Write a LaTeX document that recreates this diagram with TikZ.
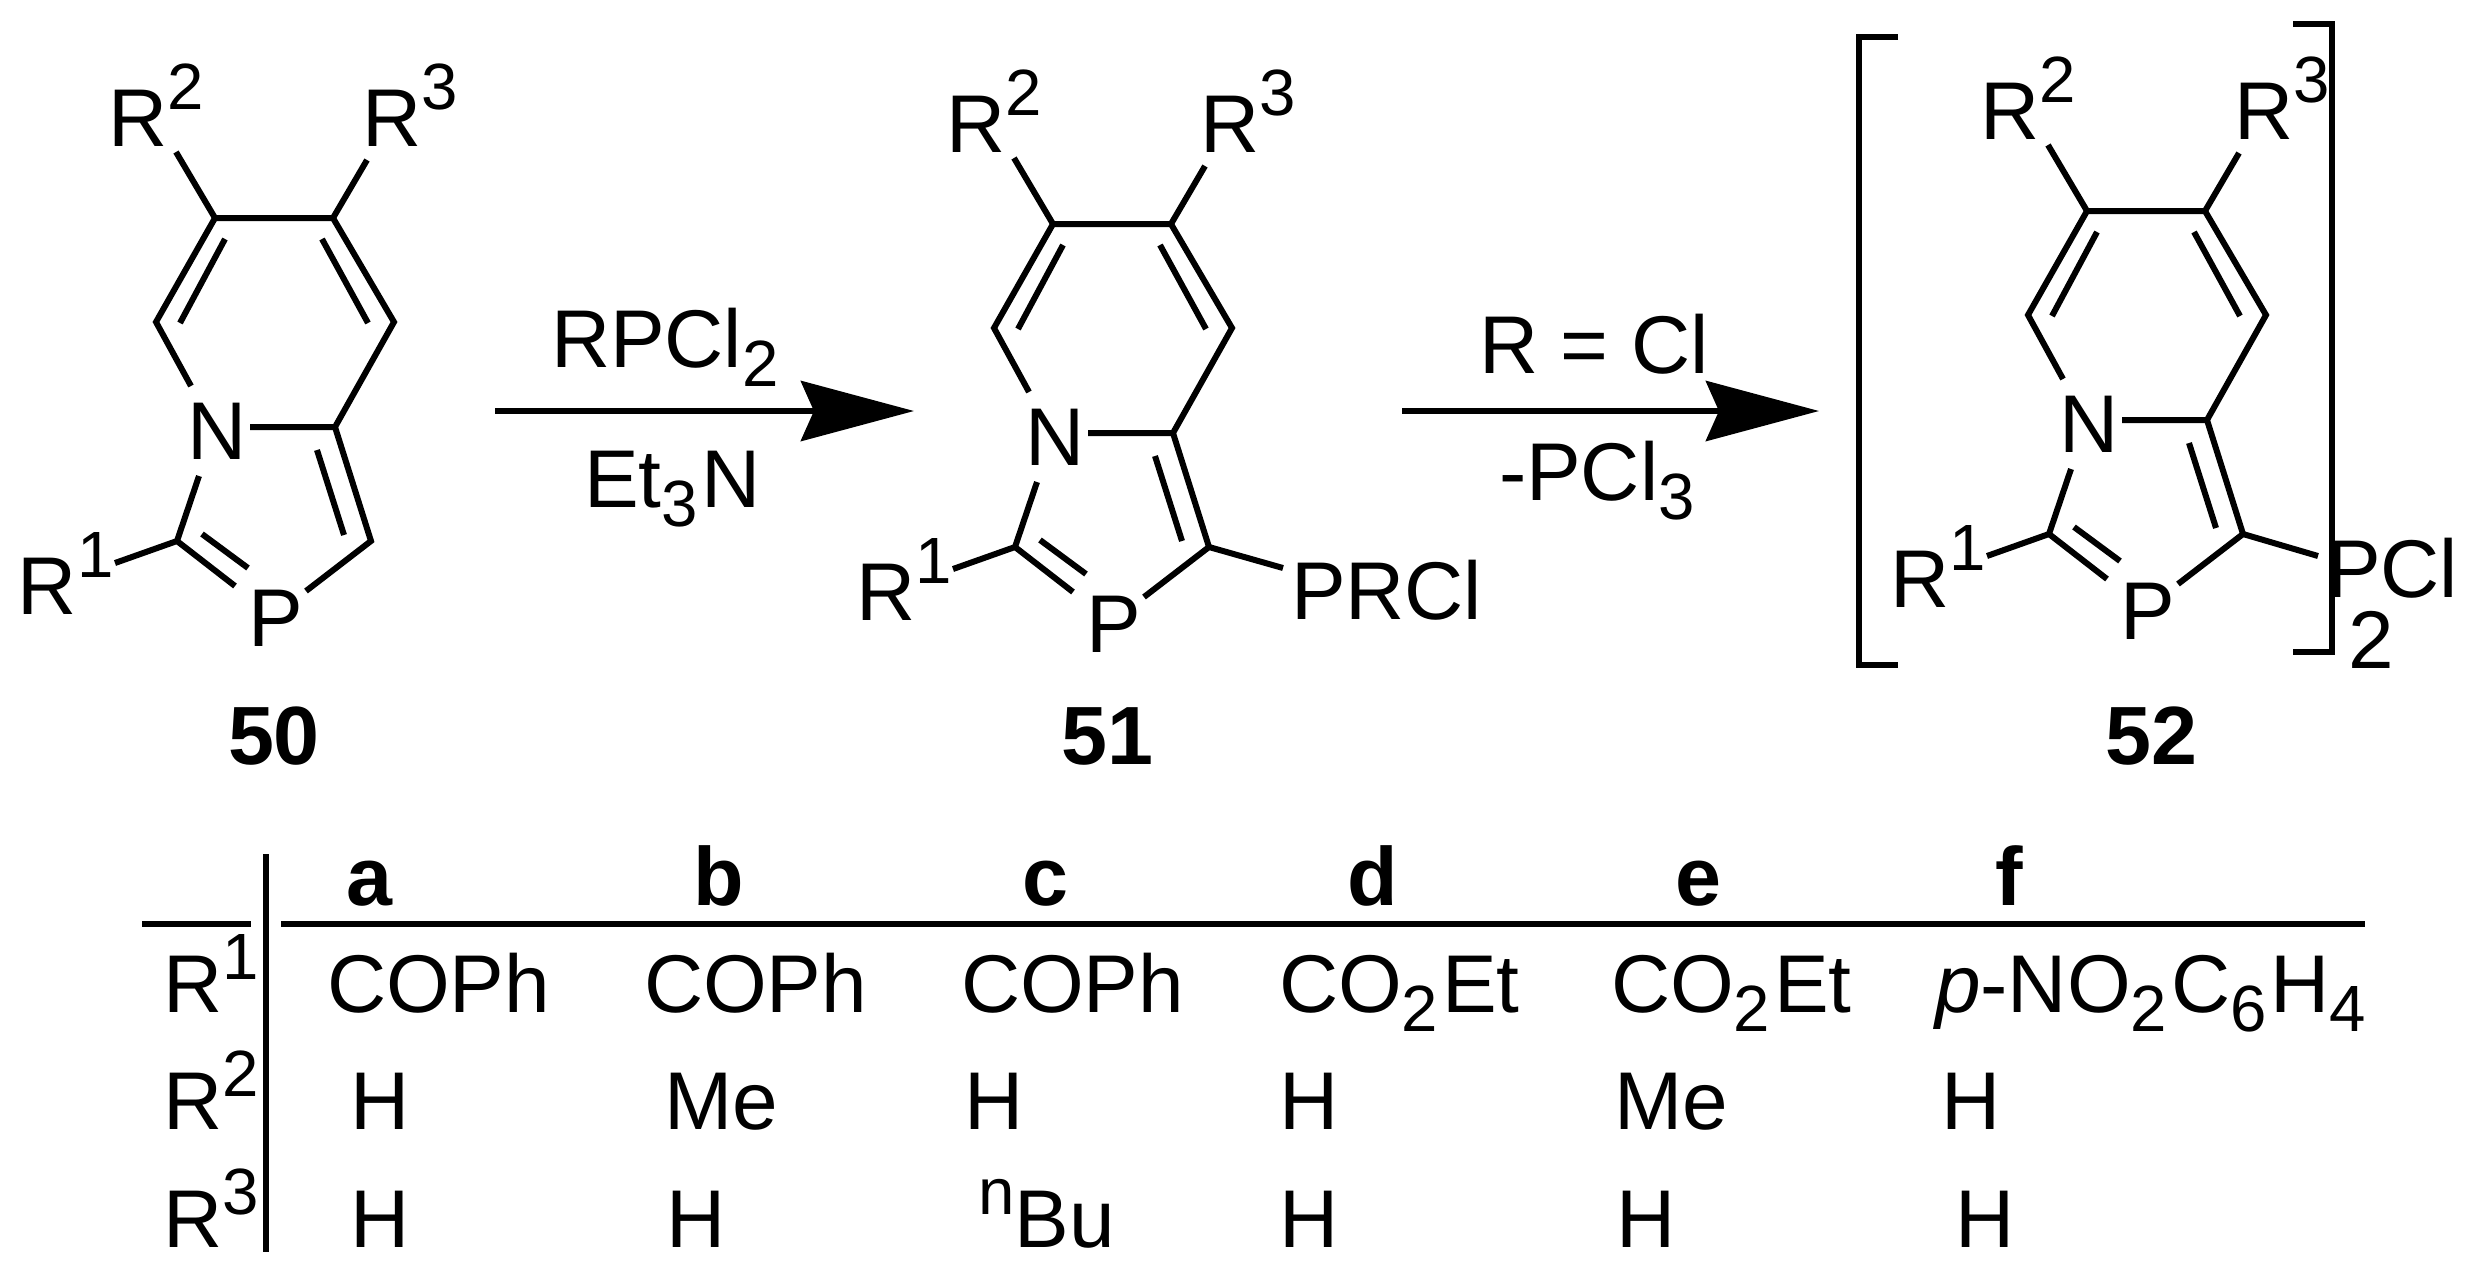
\documentclass[tikz,border=0pt]{standalone}
\usepackage{fontspec}
\setmainfont{Liberation Sans}
\usetikzlibrary{arrows.meta}
\newcommand{\Sp}[1]{\raisebox{0.36cm}{\fontsize{18.6pt}{20pt}\selectfont #1}}
\newcommand{\Tp}[1]{\raisebox{0.33cm}{\fontsize{18.6pt}{20pt}\selectfont #1}}
\newcommand{\Sb}[1]{\raisebox{-0.19cm}{\fontsize{18.6pt}{20pt}\selectfont #1}\kern0.04cm}
\tikzset{
  lab/.style={anchor=base west,inner sep=0pt,outer sep=0pt,font=\fontsize{23.3pt}{27pt}\selectfont},
  cmpd/.style={anchor=base,inner sep=0pt,outer sep=0pt,font=\fontsize{23.5pt}{27pt}\selectfont\bfseries},
  hd/.style={anchor=base west,inner sep=0pt,outer sep=0pt,font=\fontsize{23.5pt}{27pt}\selectfont\bfseries},
  bond/.style={line width=0.06cm,line cap=butt,line join=miter},
  rule/.style={line width=0.065cm},
  rxn/.style={line width=0.06cm,-{Stealth[length=1.13cm,width=0.6cm,inset=0.13cm]}}
}
\newcommand{\molecule}[3]{%
\begin{scope}[shift={(#1,#2)},name prefix=#3-]
  \coordinate (c2) at (215,218);
  \coordinate (c3) at (333,218);
  \coordinate (cl) at (156,322);
  \coordinate (cr) at (394,322);
  \coordinate (cb) at (335,427);
  \coordinate (cp) at (371,541);
  \coordinate (c1) at (177,541);
  \coordinate (e2) at (176,152);
  \coordinate (e3) at (367,160);
  \coordinate (e1) at (115,563);
  \coordinate (nl) at (191,386);
  \coordinate (nr) at (250,427);
  \coordinate (nb) at (199,476);
  \coordinate (pl) at (235,586);
  \coordinate (pr) at (306,591);
  \coordinate (i1) at (225,239);
  \coordinate (i2) at (180,323);
  \coordinate (i3) at (322,239);
  \coordinate (i4) at (368,323);
  \coordinate (i5) at (317,450);
  \coordinate (i6) at (344,535);
  \coordinate (i7) at (202,534);
  \coordinate (i8) at (248,568);
  \node[lab] (n) at (187,459) {N};
  \node[lab] (p) at (248,646) {P};
  \node[lab] (r2) at (108,146) {R\Sp{2}};
  \node[lab] (r3) at (362,146) {R\Sp{3}};
  \node[lab] (r1) at (18,614) {R\Sp{1}};
  \draw[bond] (e2) -- (c2) -- (c3) -- (e3);
  \draw[bond] (c2) -- (cl) -- (nl);
  \draw[bond] (c3) -- (cr) -- (cb) -- (nr);
  \draw[bond] (cb) -- (cp) -- (pr);
  \draw[bond] (nb) -- (c1) -- (pl);
  \draw[bond] (c1) -- (e1);
  \draw[bond] (i1) -- (i2);
  \draw[bond] (i3) -- (i4);
  \draw[bond] (i5) -- (i6);
  \draw[bond] (i7) -- (i8);
\end{scope}}
\begin{document}
\begin{tikzpicture}[x=0.01cm,y=-0.01cm]
\useasboundingbox (0,0) rectangle (2469,1284);
\fill[white] (0,0) rectangle (2469,1284);
\molecule{0}{0}{a}
\molecule{838}{6}{b}
\molecule{1872}{-7}{c}
\node[cmpd] (l50) at (274,764) {50};
\node[cmpd] (l51) at (1107,764) {51};
\node[cmpd] (l52) at (2151,764) {52};
% reaction arrows
\coordinate (a1s) at (495,411);
\coordinate (a1e) at (914,411);
\coordinate (a2s) at (1402,411);
\coordinate (a2e) at (1819,411);
\draw[rxn] (a1s) -- (a1e);
\draw[rxn] (a2s) -- (a2e);
\node[lab] (t1) at (551,367) {RPCl\Sb{2}};
\node[lab] (t2) at (584,507) {Et\Sb{3}N};
\node[lab] (t3) at (1479,373) {R = Cl};
\node[lab] (t4) at (1499,500) {-PCl\Sb{3}};
% substituent on 51
\coordinate (b5e) at (1283,568);
\draw[bond] (b-cp) -- (b5e);
\node[lab] (prcl) at (1291,619) {PRCl};
% substituent on 52
\coordinate (c5e) at (2318,556);
\draw[bond] (c-cp) -- (c5e);
\node[lab] (pcl) at (2326,597) {PCl};
\node[lab] (sub2) at (2348,668) {2};
% brackets
\coordinate (bl1) at (1898,37);
\coordinate (bl2) at (1859,37);
\coordinate (bl3) at (1859,665);
\coordinate (bl4) at (1898,665);
\coordinate (br1) at (2293,24);
\coordinate (br2) at (2332,24);
\coordinate (br3) at (2332,652);
\coordinate (br4) at (2293,652);
\draw[bond] (bl1) -- (bl2) -- (bl3) -- (bl4);
\draw[bond] (br1) -- (br2) -- (br3) -- (br4);
% table rules
\coordinate (v1) at (266,854);
\coordinate (v2) at (266,1252);
\coordinate (h1) at (142,924);
\coordinate (h2) at (251,924);
\coordinate (h3) at (281,924);
\coordinate (h4) at (2365,924);
\draw[bond] (v1) -- (v2);
\draw[rule] (h1) -- (h2);
\draw[rule] (h3) -- (h4);
% headers
\node[hd] (ha) at (346,905) {a};
\node[hd] (hb) at (693,905) {b};
\node[hd] (hc) at (1022,905) {c};
\node[hd] (hd) at (1347,905) {d};
\node[hd] (he) at (1675,905) {e};
\node[hd] (hf) at (1995,905) {f};
% rows
\node[lab] (r1l) at (163,1012) {R\Tp{1}};
\node[lab] (r2l) at (163,1129) {R\Tp{2}};
\node[lab] (r3l) at (163,1247) {R\Tp{3}};
\node[lab] (a1) at (327,1012) {COPh};
\node[lab] (b1) at (644,1012) {COPh};
\node[lab] (c1) at (961,1012) {COPh};
\node[lab] (d1) at (1279,1012) {CO\Sb{2}Et};
\node[lab] (e1) at (1611,1012) {CO\Sb{2}Et};
\node[lab] (f1) at (1935,1012) {\textit{p}-NO\Sb{2}C\Sb{6}H\Sb{4}};
\node[lab] (a2) at (350,1129) {H};
\node[lab] (b2) at (664,1129) {Me};
\node[lab] (c2) at (964,1129) {H};
\node[lab] (d2) at (1279,1129) {H};
\node[lab] (e2) at (1614,1129) {Me};
\node[lab] (f2) at (1941,1129) {H};
\node[lab] (a3) at (350,1247) {H};
\node[lab] (b3) at (666,1247) {H};
\node[lab] (c3) at (978,1247) {\Tp{n}Bu};
\node[lab] (d3) at (1279,1247) {H};
\node[lab] (e3) at (1616,1247) {H};
\node[lab] (f3) at (1955,1247) {H};
\end{tikzpicture}
\end{document}
